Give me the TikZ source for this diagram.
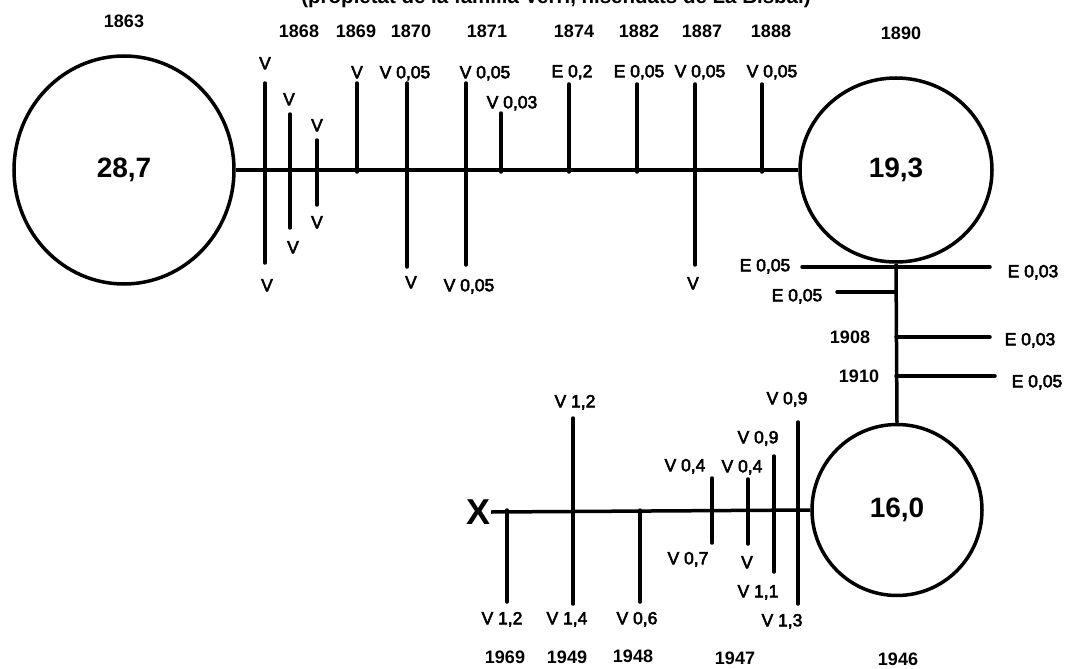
\documentclass[tikz,border=0pt]{standalone}
\usepackage{fontspec}
\setmainfont{Liberation Sans}
\newfontfamily\lblfont{Liberation Sans}[FakeBold=3]
\usetikzlibrary{shapes.geometric}
\begin{document}
\begin{tikzpicture}[x=1pt,y=-1pt,
  circ/.style={draw, ellipse, line width=3.5pt, inner sep=0pt, font=\bfseries\fontsize{28}{28}\selectfont},
  tk/.style={line width=3.5pt, line cap=round},
  hl/.style={line width=3.5pt},
  lbl/.style={font=\lblfont\fontsize{17.5}{17.5}\selectfont, inner sep=0pt, text height=12.5pt, text depth=0pt},
  yr/.style={font=\bfseries\fontsize{18}{18}\selectfont, inner sep=0pt, text height=12.9pt, text depth=0pt},
  ttl/.style={font=\bfseries\fontsize{20.5}{20.5}\selectfont, inner sep=0pt, anchor=base}
]
\useasboundingbox (0,0) rectangle (1066,669);
\fill[white] (0,0) rectangle (1066,669);

% title (cut off at the top, as in the reference)
\node[ttl] (title) at (556,3.5) {(propietat de la família Verri, hisendats de La Bisbal)};

% circles
\node[circ, minimum width=220pt, minimum height=228pt] (c1) at (124,170) {28,7};
\node[circ, minimum width=192pt, minimum height=184pt] (c2) at (896,170) {19,3};
\node[circ, minimum width=170pt, minimum height=171pt] (c3) at (897,510) {16,0};
\node[font=\bfseries\fontsize{36}{36}\selectfont, inner sep=0pt, text height=25.8pt, text depth=0pt] (xm) at (479,512) {X};

% main connectors
\draw[hl] (c1.east) -- (c2.west);
\draw[hl] (c2.south) -- (c3.north);
\draw[hl] (xm.east) -- (c3.west);

% top years
\node[yr] (y1863) at (124,21) {1863};
\node[yr] (y1868) at (299,31) {1868};
\node[yr] (y1869) at (356,31) {1869};
\node[yr] (y1870) at (411,31) {1870};
\node[yr] (y1871) at (487,31) {1871};
\node[yr] (y1874) at (574,31) {1874};
\node[yr] (y1882) at (639,31) {1882};
\node[yr] (y1887) at (702,31) {1887};
\node[yr] (y1888) at (771,31) {1888};
\node[yr] (y1890) at (901,33) {1890};

% top ticks
\coordinate (a1) at (265,83);  \coordinate (b1) at (265,263);
\coordinate (a2) at (290,114); \coordinate (b2) at (290,228);
\coordinate (a3) at (317,140); \coordinate (b3) at (317,205);
\coordinate (a4) at (357,83);  \coordinate (b4) at (357,172);
\coordinate (a5) at (407,83);  \coordinate (b5) at (407,267);
\coordinate (a6) at (466,83);  \coordinate (b6) at (466,265);
\coordinate (a7) at (501,113); \coordinate (b7) at (501,172);
\coordinate (a8) at (569,84);  \coordinate (b8) at (569,172);
\coordinate (a9) at (637,84);  \coordinate (b9) at (637,172);
\coordinate (a10) at (695,84); \coordinate (b10) at (695,265);
\coordinate (a11) at (762,84); \coordinate (b11) at (762,172);
\foreach \i in {1,...,11} {\draw[tk] (a\i) -- (b\i);}

\node[lbl] (la1) at (265,63) {V};
\node[lbl] (lb1) at (267,285) {V};
\node[lbl] (la2) at (289,99) {V};
\node[lbl] (lb2) at (293,247) {V};
\node[lbl] (la3) at (317,125) {V};
\node[lbl] (lb3) at (317,222) {V};
\node[lbl] (la4) at (357,72) {V};
\node[lbl] (la5) at (405,72) {V 0,05};
\node[lbl] (lb5) at (411,282) {V};
\node[lbl] (la6) at (485,72) {V 0,05};
\node[lbl] (lb6) at (469,285) {V 0,05};
\node[lbl] (la7) at (512,102) {V 0,03};
\node[lbl] (la8) at (572,71) {E 0,2};
\node[lbl] (la9) at (639,71) {E 0,05};
\node[lbl] (la10) at (700,71) {V 0,05};
\node[lbl] (lb10) at (693,283) {V};
\node[lbl] (la11) at (772,71) {V 0,05};

% right side E ticks
\coordinate (e1a) at (802,267); \coordinate (e1b) at (990,267);
\coordinate (e2a) at (837,292); \coordinate (e2b) at (896,292);
\coordinate (e3a) at (896,337); \coordinate (e3b) at (990,337);
\coordinate (e4a) at (896,376); \coordinate (e4b) at (995,376);
\draw[tk] (e1a) -- (e1b);
\draw[tk] (e2a) -- (e2b);
\draw[tk] (e3a) -- (e3b);
\draw[tk] (e4a) -- (e4b);
\node[lbl] (le1l) at (765,265) {E 0,05};
\node[lbl] (le1r) at (1033,271) {E 0,03};
\node[lbl] (le2) at (797,295) {E 0,05};
\node[yr] (y1908) at (850,337) {1908};
\node[lbl] (le3) at (1030,339) {E 0,03};
\node[yr] (y1910) at (859,376) {1910};
\node[lbl] (le4) at (1037,381) {E 0,05};

% bottom ticks
\coordinate (d1a) at (507,510); \coordinate (d1b) at (507,602);
\coordinate (d2a) at (573,418); \coordinate (d2b) at (573,604);
\coordinate (d3a) at (640,510); \coordinate (d3b) at (640,602);
\coordinate (d4a) at (712,478); \coordinate (d4b) at (712,543);
\coordinate (d5a) at (748,479); \coordinate (d5b) at (748,544);
\coordinate (d6a) at (774,456); \coordinate (d6b) at (774,572);
\coordinate (d7a) at (798,422); \coordinate (d7b) at (798,604);
\foreach \i in {1,...,7} {\draw[tk] (d\i a) -- (d\i b);}

\node[lbl] (ld1) at (502,618) {V 1,2};
\node[lbl] (ld2t) at (575,401) {V 1,2};
\node[lbl] (ld2b) at (567,618) {V 1,4};
\node[lbl] (ld3) at (637,618) {V 0,6};
\node[lbl] (ld4t) at (685,465) {V 0,4};
\node[lbl] (ld4b) at (688,558) {V 0,7};
\node[lbl] (ld5t) at (742,466) {V 0,4};
\node[lbl] (ld5b) at (747,562) {V};
\node[lbl] (ld6t) at (758,437) {V 0,9};
\node[lbl] (ld6b) at (758,591) {V 1,1};
\node[lbl] (ld7t) at (787,398) {V 0,9};
\node[lbl] (ld7b) at (782,620) {V 1,3};

\node[yr] (y1969) at (505,657) {1969};
\node[yr] (y1949) at (567,657) {1949};
\node[yr] (y1948) at (633,656) {1948};
\node[yr] (y1947) at (735,658) {1947};
\node[yr] (y1946) at (898,659) {1946};
\end{tikzpicture}
\end{document}
